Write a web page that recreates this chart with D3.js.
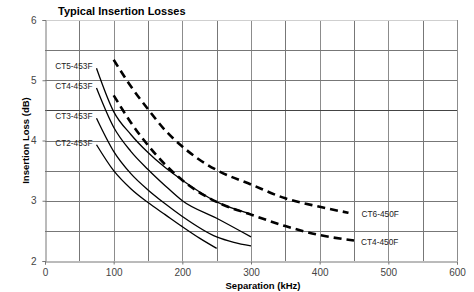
<!DOCTYPE html>
<html>
<head>
<meta charset="utf-8">
<script src="https://cdn.jsdelivr.net/npm/d3@7"></script>
<style>
  body { margin: 0; background: #fff; }
  svg text { font-family: "Liberation Sans", Arial, sans-serif; }
</style>
</head>
<body>
<div id="grafico"></div>
<script>
// eixos
const xTicks = [0, 100, 200, 300, 400, 500, 600];
const yTicks = [2, 3, 4, 5, 6];

// curvas solidas (453F) - kHz / dB
const ct5_453_x = [75, 100, 125, 150, 175, 200, 250, 300];
const ct5_453_y = [5.20, 4.48, 4.10, 3.80, 3.55, 3.34, 2.98, 2.78];
const ct4_453_x = [75, 100, 125, 150, 175, 200, 250, 300];
const ct4_453_y = [4.87, 4.22, 3.82, 3.52, 3.25, 3.00, 2.71, 2.40];
const ct3_453_x = [75, 100, 125, 150, 175, 200, 250, 275, 300];
const ct3_453_y = [4.37, 3.82, 3.45, 3.18, 2.95, 2.74, 2.40, 2.31, 2.25];
const ct2_453_x = [75, 100, 125, 150, 175, 200, 225, 250];
const ct2_453_y = [3.93, 3.50, 3.20, 2.97, 2.77, 2.57, 2.38, 2.21];

// curvas tracejadas (450F)
const ct6_450_x = [100, 125, 150, 175, 200, 225, 250, 300, 350, 400, 442];
const ct6_450_y = [5.34, 4.90, 4.52, 4.17, 3.90, 3.68, 3.51, 3.27, 3.04, 2.90, 2.80];
const ct4_450_x = [100, 125, 150, 175, 200, 250, 300, 350, 400, 450];
const ct4_450_y = [4.75, 4.30, 3.92, 3.60, 3.34, 2.98, 2.77, 2.58, 2.43, 2.34];

const nomes = ["CT5-453F", "CT4-453F", "CT3-453F", "CT2-453F", "CT6-450F", "CT4-450F"];

const W = 474, H = 292;
const m = {left: 45, right: 17, top: 20, bottom: 31};

const svg = d3.select('#grafico').append('svg')
  .attr('width', W).attr('height', H);

const x = d3.scaleLinear().domain([0, 600]).range([m.left, W - m.right]);
const y = d3.scaleLinear().domain([2, 6]).range([H - m.bottom, m.top]);

// grade
const grade = svg.append('g');
for (let v = 50; v <= 600; v += 50) {
  const px = Math.round(x(v)) + 0.5;
  grade.append('line').attr('x1', px).attr('x2', px)
    .attr('y1', y(6)).attr('y2', y(2))
    .attr('stroke', v % 100 == 0 ? '#8c8c8c' : '#777').attr('stroke-width', 1);
}
for (let v = 2.5; v <= 6; v += 0.5) {
  const py = Math.round(y(v)) + 0.5;
  grade.append('line').attr('x1', x(0)).attr('x2', x(600))
    .attr('y1', py).attr('y2', py)
    .attr('stroke', v == 6 ? '#cfcfcf' : (v == 4.5 ? '#444' : '#777')).attr('stroke-width', 1);
}

// eixos
const eixoX = svg.append('g')
  .attr('transform', `translate(0,${Math.round(y(2)) + 0.5})`)
  .call(d3.axisBottom(x).tickValues(xTicks).tickFormat(d3.format('d')).tickSize(3).tickPadding(4));
const eixoY = svg.append('g')
  .attr('transform', `translate(${Math.round(x(0)) + 0.5},0)`)
  .call(d3.axisLeft(y).tickValues(yTicks).tickFormat(d3.format('d')).tickSize(3).tickPadding(6));
[eixoX, eixoY].forEach(e => {
  e.select('.domain').attr('stroke', '#777');
  e.selectAll('.tick line').attr('stroke', '#777');
  e.selectAll('.tick text').attr('font-size', '10px').attr('fill', '#444')
    .attr('font-family', '"Liberation Sans", Arial, sans-serif');
});

// linhas
const linha = d3.line()
  .x(d => x(d[0])).y(d => y(d[1]))
  .curve(d3.curveMonotoneX);

const solidas = [
  [ct5_453_x, ct5_453_y], [ct4_453_x, ct4_453_y],
  [ct3_453_x, ct3_453_y], [ct2_453_x, ct2_453_y]
];
const tracejadas = [[ct6_450_x, ct6_450_y], [ct4_450_x, ct4_450_y]];

solidas.forEach((s, i) => {
  const pts = s[0].map((v, k) => [v, s[1][k]]);
  svg.append('path').attr('d', linha(pts))
    .attr('fill', 'none').attr('stroke', '#000').attr('stroke-width', 1.3);
  svg.append('text')
    .attr('x', x(pts[0][0]) - 4).attr('y', y(pts[0][1]) + 1)
    .attr('text-anchor', 'end').attr('font-size', '8.3px').attr('fill', '#222')
    .text(nomes[i]);
});

tracejadas.forEach((s, i) => {
  const pts = s[0].map((v, k) => [v, s[1][k]]);
  svg.append('path').attr('d', linha(pts))
    .attr('fill', 'none').attr('stroke', '#000').attr('stroke-width', 2.6)
    .attr('stroke-dasharray', '8,5');
  const ult = pts[pts.length - 1];
  svg.append('text')
    .attr('x', x(ult[0]) + (i == 0 ? 13 : 7)).attr('y', y(ult[1]) + 4)
    .attr('font-size', '8.3px').attr('fill', '#222')
    .text(nomes[4 + i]);
});

// titulos
svg.append('text').attr('x', 58).attr('y', 15)
  .attr('font-size', '11px').attr('font-weight', 'bold')
  .text('Typical Insertion Losses');
svg.append('text').attr('x', 263).attr('y', 289)
  .attr('text-anchor', 'middle').attr('font-size', '9.5px').attr('font-weight', 'bold')
  .text('Separation (kHz)');
svg.append('text')
  .attr('transform', `translate(29,${(y(2) + y(6)) / 2}) rotate(-90)`)
  .attr('text-anchor', 'middle').attr('font-size', '9.5px').attr('font-weight', 'bold')
  .text('Insertion Loss (dB)');
</script>
</body>
</html>
